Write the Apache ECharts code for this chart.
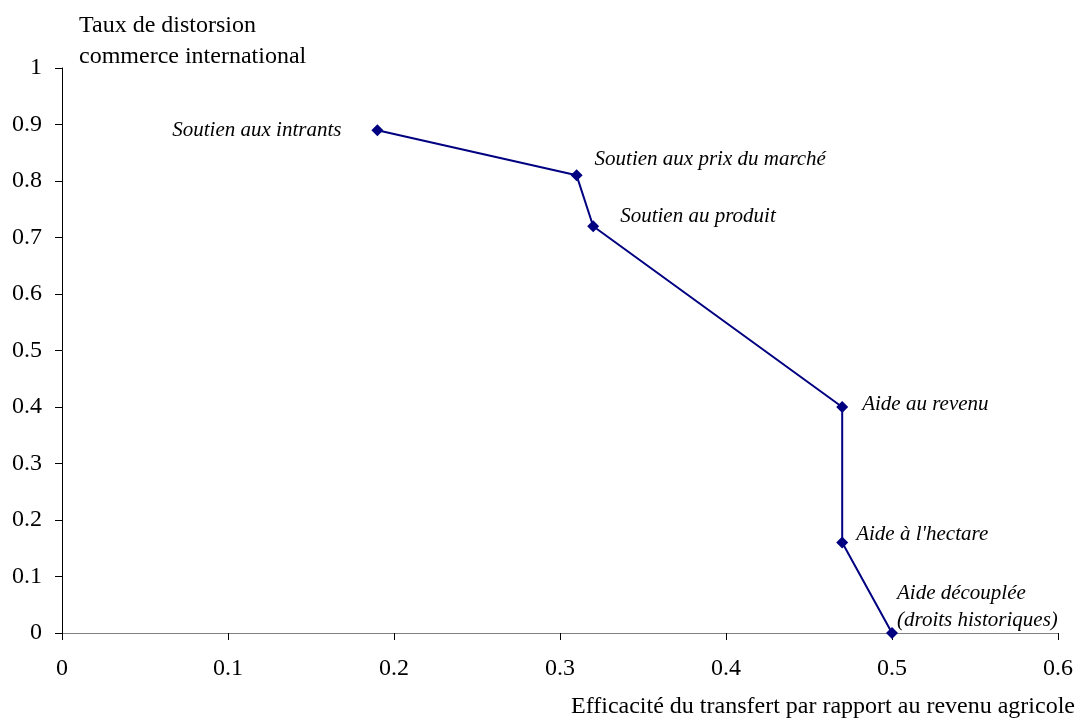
<!DOCTYPE html>
<html>
<head>
<meta charset="utf-8">
<script src="https://cdn.jsdelivr.net/npm/echarts@6/dist/echarts.min.js"></script>
<style>
html,body{margin:0;padding:0;background:#fff;}
#chart{width:1080px;height:720px;}
</style>
</head>
<body>
<div id="chart"></div>
<script>
const pointNames = ['Soutien aux intrants', 'Soutien aux prix du marché', 'Soutien au produit', 'Aide au revenu', "Aide à l'hectare", 'Aide découplée\n(droits historiques)'];
const xValues = [0.19, 0.31, 0.32, 0.47, 0.47, 0.50];
const yValues = [0.89, 0.81, 0.72, 0.40, 0.16, 0.00];
const xAxisMin = 0, xAxisMax = 0.6, xAxisStep = 0.1;
const yAxisMin = 0, yAxisMax = 1, yAxisStep = 0.1;
const xAxisTitle = 'Efficacité du transfert par rapport au revenu agricole';
const yAxisTitle = 'Taux de distorsion\ncommerce international';

// label placement (layout only)
const labelLayout = [
  {align:'right', dx:-36, dy:0},
  {align:'left', dx:18, dy:-16},
  {align:'left', dx:27, dy:-10},
  {align:'left', dx:20, dy:-3},
  {align:'left', dx:14, dy:-8},
  {align:'left', dx:5, dy:-26}
];
const symSize = 12;
const half = symSize / 2;
const font = '"Liberation Serif", "Times New Roman", serif';

const seriesData = xValues.map((x, i) => ({
  value: [x, yValues[i]],
  name: pointNames[i],
  label: {
    show: true,
    formatter: '{b}',
    position: [half + labelLayout[i].dx, half + labelLayout[i].dy],
    align: labelLayout[i].align,
    verticalAlign: 'middle',
    fontFamily: font,
    fontStyle: 'italic',
    fontSize: 21,
    lineHeight: 27,
    color: '#000'
  }
}));

const chart = echarts.init(document.getElementById('chart'));
chart.setOption({
  backgroundColor: '#fff',
  animation: false,
  grid: {left: 62, right: 22, top: 68, bottom: 87, containLabel: false, outerBoundsMode: 'none'},
  xAxis: {
    type: 'value', min: xAxisMin, max: xAxisMax, interval: xAxisStep,
    name: xAxisTitle, nameLocation: 'end', nameGap: 17,
    nameTextStyle: {fontFamily: font, fontSize: 24, color: '#000', align: 'right', verticalAlign: 'top', padding: [62, 0, 0, 0]},
    axisLine: {show: true, onZero: false, lineStyle: {color: '#808080', width: 1}},
    axisTick: {show: true, inside: false, length: 7, lineStyle: {color: '#000'}},
    axisLabel: {fontFamily: font, fontSize: 24, color: '#000', margin: 24},
    splitLine: {show: false}
  },
  yAxis: {
    type: 'value', min: yAxisMin, max: yAxisMax, interval: yAxisStep,
    name: yAxisTitle, nameLocation: 'end', nameGap: -4,
    nameTextStyle: {fontFamily: font, fontSize: 24, color: '#000', align: 'left', verticalAlign: 'bottom', lineHeight: 31, padding: [0, 0, 0, 17]},
    axisLine: {show: true, onZero: false, lineStyle: {color: '#000', width: 1}},
    axisTick: {show: true, inside: false, length: 7, lineStyle: {color: '#000'}},
    axisLabel: {fontFamily: font, fontSize: 24, color: '#000', margin: 20},
    splitLine: {show: false}
  },
  series: [{
    type: 'line',
    data: seriesData,
    symbol: 'diamond',
    symbolSize: symSize,
    showAllSymbol: true,
    clip: false,
    lineStyle: {color: '#000080', width: 2},
    itemStyle: {color: '#000080'},
    z: 5
  }]
});
</script>
</body>
</html>
